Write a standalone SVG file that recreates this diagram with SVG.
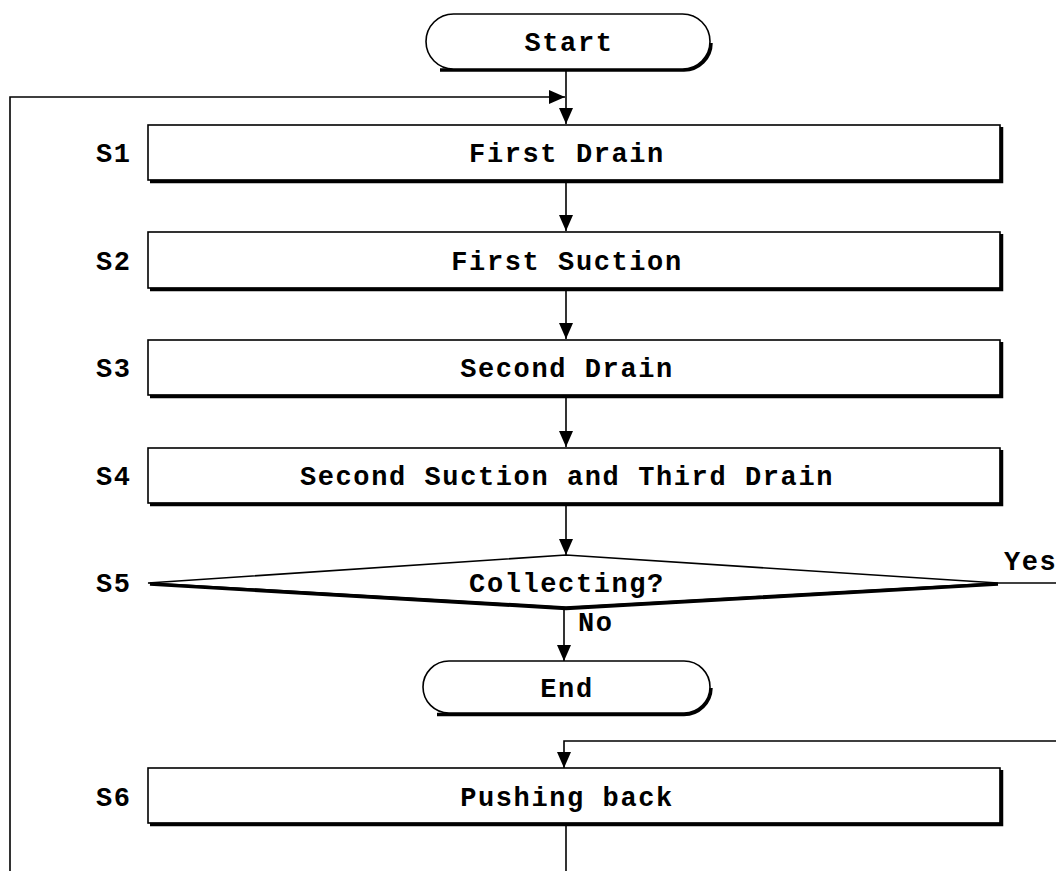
<svg xmlns="http://www.w3.org/2000/svg" width="1056" height="871" viewBox="0 0 1056 871">
<defs>
<marker id="arr" viewBox="0 0 16 14" refX="16" refY="7" markerWidth="16" markerHeight="14" markerUnits="userSpaceOnUse" orient="auto">
<path d="M0,0 L16,7 L0,14 Z" fill="#000"/>
</marker>
</defs>
<style>
text{font-family:"Liberation Mono","Courier New",monospace;font-weight:bold;font-size:27px;letter-spacing:1.6px;fill:#000}
.c{text-anchor:middle}
.box{fill:#fff;stroke:#000;stroke-width:1.6}
.sh{fill:none;stroke:#000;stroke-width:3.5}
.ln{fill:none;stroke:#000;stroke-width:1.6}
</style>
<rect width="1056" height="871" fill="#fff"/>
<g id="connectors">
<polyline class="ln" points="10,871 10,97 565,97" marker-end="url(#arr)"/>
<line class="ln" x1="566" y1="69" x2="566" y2="124" marker-end="url(#arr)"/>
<line class="ln" x1="566" y1="181" x2="566" y2="231" marker-end="url(#arr)"/>
<line class="ln" x1="566" y1="289" x2="566" y2="339" marker-end="url(#arr)"/>
<line class="ln" x1="566" y1="396" x2="566" y2="447" marker-end="url(#arr)"/>
<line class="ln" x1="566" y1="504" x2="566" y2="555" marker-end="url(#arr)"/>
<line class="ln" x1="564" y1="608" x2="564" y2="661" marker-end="url(#arr)"/>
<line class="ln" x1="998" y1="583" x2="1056" y2="583"/>
<polyline class="ln" points="1056,741 564,741 564,768" marker-end="url(#arr)"/>
<line class="ln" x1="566" y1="825" x2="566" y2="871"/>
<text x="1004" y="570">Yes</text>
<text x="578" y="631">No</text>
</g>
<g id="start">
<path class="sh" d="M440,70 L684,70 A27,27 0 0 0 711,43"/>
<rect class="box" x="426" y="14" width="284" height="55" rx="27.5"/>
<text class="c" x="569" y="51">Start</text>
</g>
<g id="s1">
<rect class="box" x="148" y="125" width="852" height="55"/>
<polyline class="sh" points="150,181.5 1001.5,181.5 1001.5,127"/>
<text class="c" x="567" y="162">First Drain</text>
<text x="96" y="162">S1</text>
</g>
<g id="s2">
<rect class="box" x="148" y="232" width="852" height="56"/>
<polyline class="sh" points="150,289.5 1001.5,289.5 1001.5,234"/>
<text class="c" x="567" y="270">First Suction</text>
<text x="96" y="270">S2</text>
</g>
<g id="s3">
<rect class="box" x="148" y="340" width="852" height="55"/>
<polyline class="sh" points="150,396.5 1001.5,396.5 1001.5,342"/>
<text class="c" x="567" y="377">Second Drain</text>
<text x="96" y="377">S3</text>
</g>
<g id="s4">
<rect class="box" x="148" y="448" width="852" height="55"/>
<polyline class="sh" points="150,504.5 1001.5,504.5 1001.5,450"/>
<text class="c" x="567" y="485">Second Suction and Third Drain</text>
<text x="96" y="485">S4</text>
</g>
<g id="s5">
<polygon class="box" points="148,583 566,555 998,583 566,607"/>
<polyline class="sh" points="150,584 566,608.5 998,584"/>
<text class="c" x="567" y="592">Collecting?</text>
<text x="96" y="592">S5</text>
</g>
<g id="end">
<path class="sh" d="M437,714.5 L684,714.5 A27,27 0 0 0 711,688"/>
<rect class="box" x="423" y="661" width="287" height="52" rx="26"/>
<text class="c" x="567" y="697">End</text>
</g>
<g id="s6">
<rect class="box" x="148" y="768" width="852" height="55"/>
<polyline class="sh" points="150,824.5 1001.5,824.5 1001.5,770"/>
<text class="c" x="567" y="806">Pushing back</text>
<text x="96" y="806">S6</text>
</g>
</svg>
